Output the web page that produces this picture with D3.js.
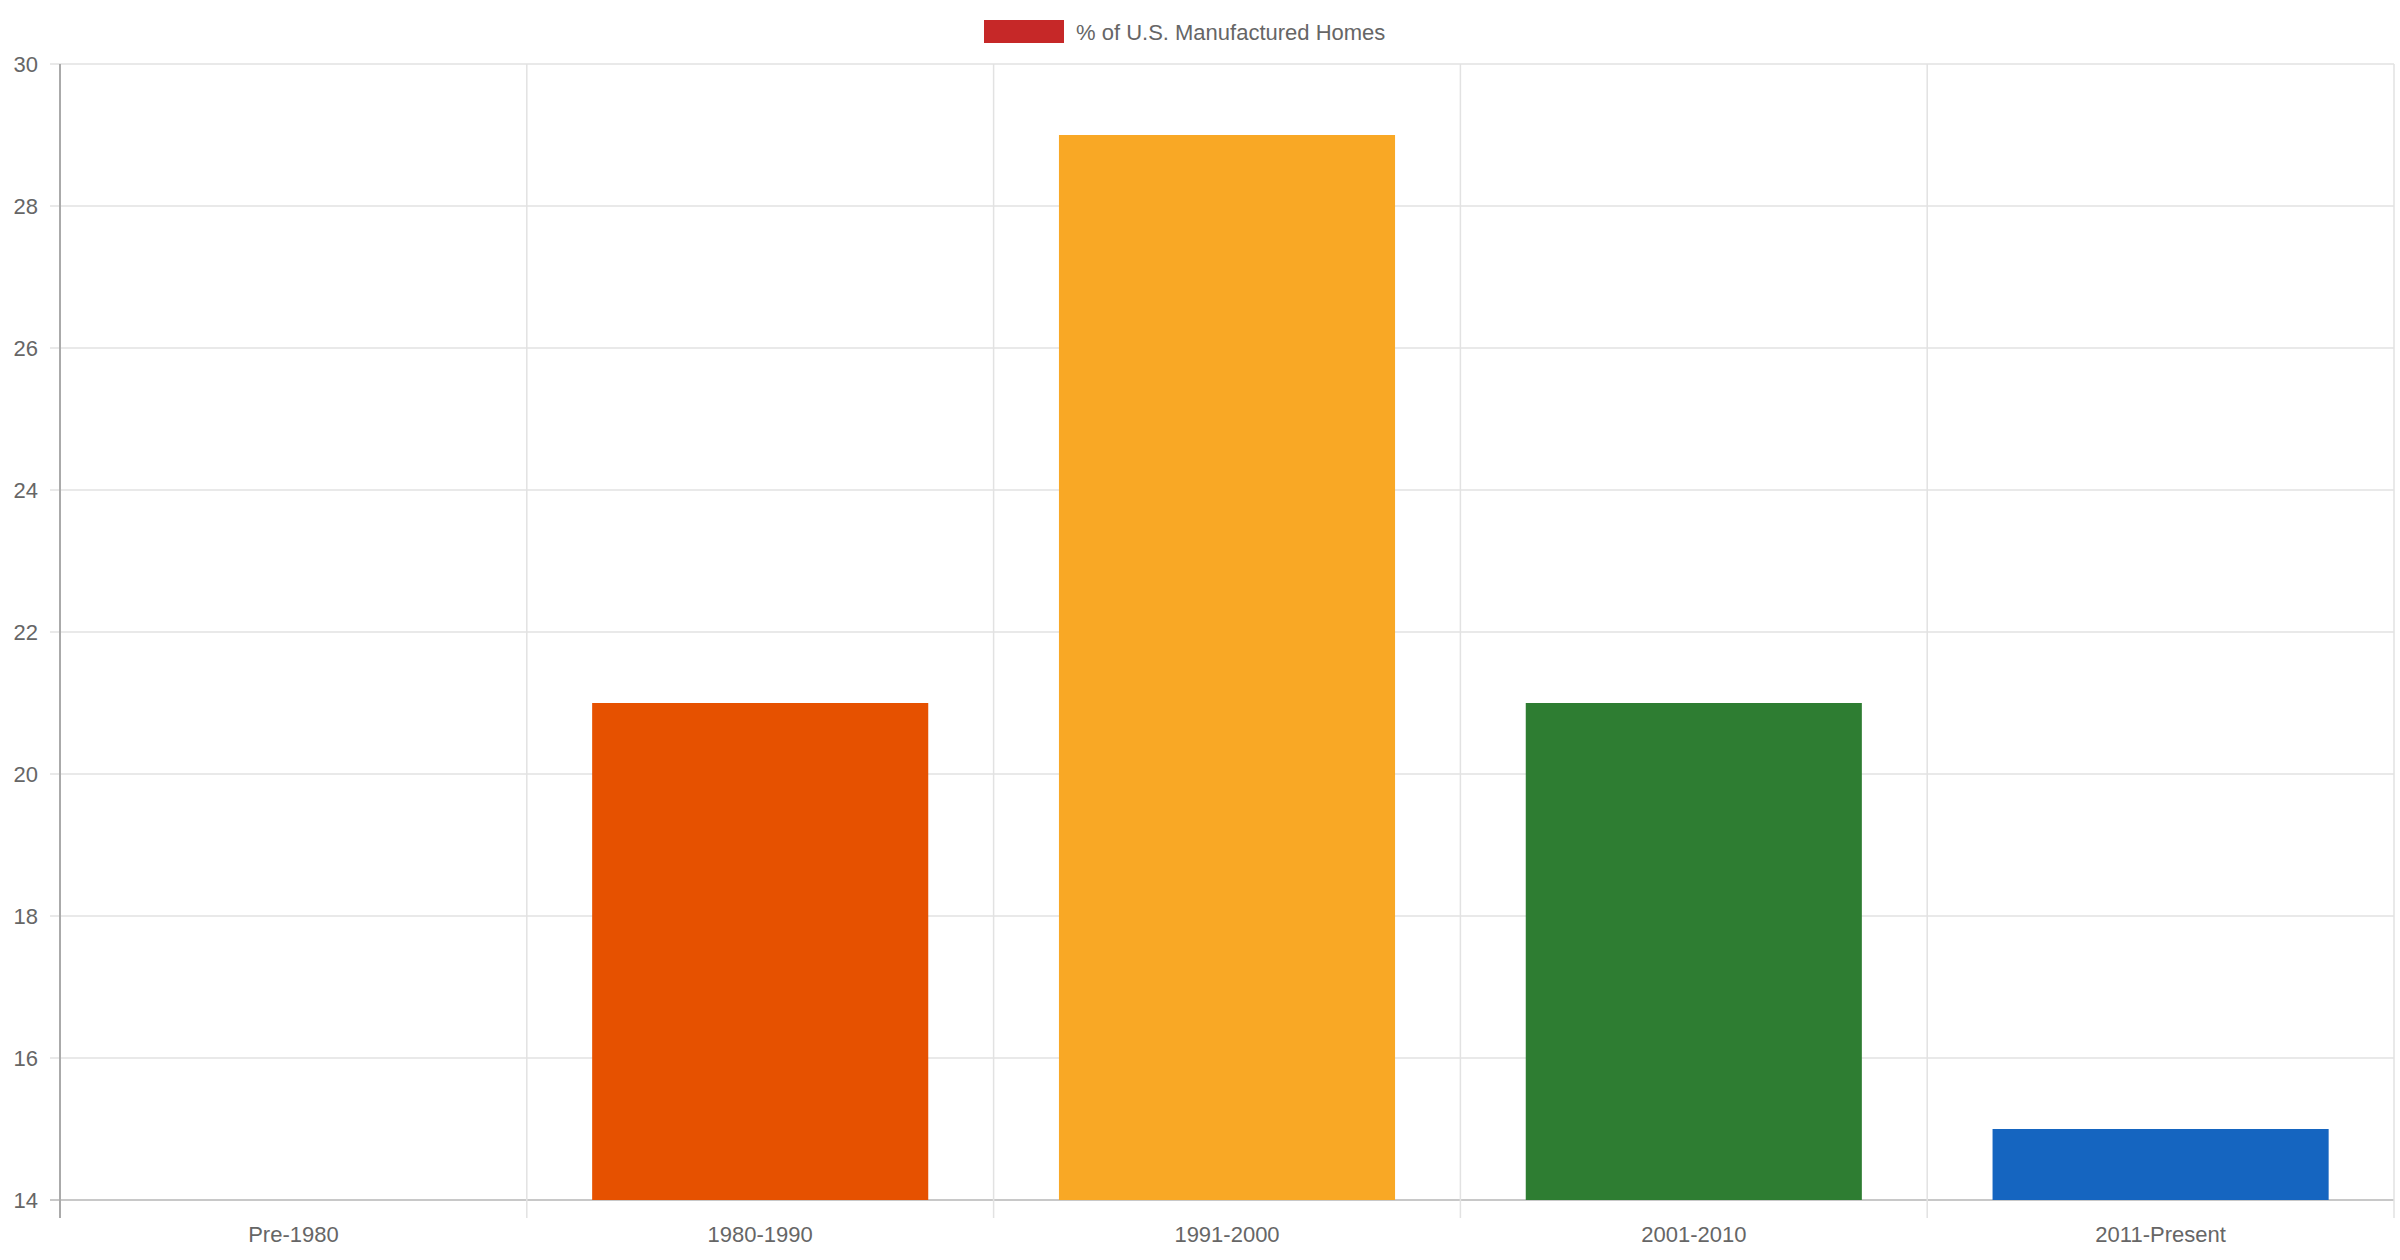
<!DOCTYPE html>
<html><head><meta charset="utf-8">
<script src="https://cdn.jsdelivr.net/npm/d3@7"></script>
<style>body{margin:0;background:#fff}svg{display:block;font-family:"Liberation Sans",Arial,sans-serif}</style>
</head><body><svg id="c" width="2400" height="1260"></svg>
<script>
const categories = ["Pre-1980","1980-1990","1991-2000","2001-2010","2011-Present"];
const values = [14, 21, 29, 21, 15];
const colors = ["#c62828","#e65100","#f9a825","#2e7d32","#1565c0"];
const yTicks = [14,16,18,20,22,24,26,28,30];
const seriesName = "% of U.S. Manufactured Homes";

const svg = d3.select("#c");
const L = 60, R = 2394, T = 64, B = 1200;
const x = d3.scaleBand().domain(categories).range([L, R]).paddingInner(0).paddingOuter(0);
const y = d3.scaleLinear().domain([14, 30]).range([B, T]);
const txt = "#666";

// horizontal grid
svg.append("g").selectAll("line").data(yTicks).join("line")
  .attr("x1", L - 10).attr("x2", R).attr("y1", d => y(d)).attr("y2", d => y(d))
  .attr("stroke", d => d === 14 ? "#c8c8c8" : "#e2e2e2").attr("stroke-width", d => d === 14 ? 2 : 1.5);
// vertical grid
const vx = categories.map(c => x(c)).concat([R]);
svg.append("g").selectAll("line").data(vx).join("line")
  .attr("x1", d => d).attr("x2", d => d).attr("y1", T).attr("y2", B + 18)
  .attr("stroke", (d, i) => i === 0 ? "#aaa" : "#e2e2e2").attr("stroke-width", (d, i) => i === 0 ? 2 : 1.5);

// bars
const bw = x.bandwidth() * 0.72;
svg.append("g").selectAll("rect").data(values).join("rect")
  .attr("x", (d, i) => x(categories[i]) + (x.bandwidth() - bw) / 2)
  .attr("width", bw)
  .attr("y", d => y(d)).attr("height", d => B - y(d))
  .attr("fill", (d, i) => colors[i]);

// y labels
svg.append("g").selectAll("text").data(yTicks).join("text")
  .attr("x", 38).attr("y", d => y(d)).attr("dy", "0.35em").attr("text-anchor", "end")
  .attr("font-size", 22).attr("fill", txt).text(d => d);
// x labels
svg.append("g").selectAll("text").data(categories).join("text")
  .attr("x", d => x(d) + x.bandwidth() / 2).attr("y", 1234).attr("dy", "0.35em")
  .attr("text-anchor", "middle").attr("font-size", 22).attr("fill", txt).text(d => d);

// legend
svg.append("rect").attr("x", 984).attr("y", 20).attr("width", 80).attr("height", 23).attr("fill", colors[0]);
svg.append("text").attr("x", 1076).attr("y", 32).attr("dy", "0.35em")
  .attr("font-size", 22).attr("fill", txt).text(seriesName);
</script></body></html>
